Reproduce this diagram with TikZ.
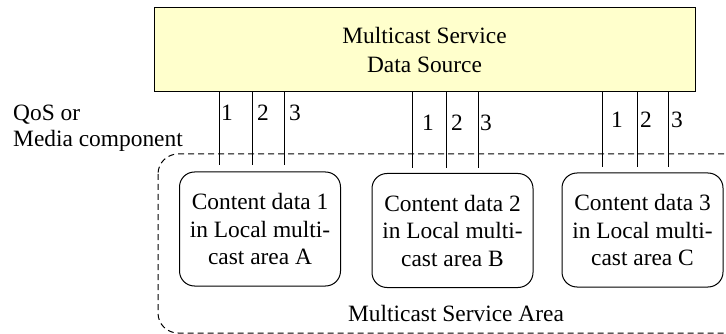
\documentclass[tikz,border=0pt]{standalone}
\usepackage{fontspec}
\setmainfont{Liberation Serif}
\definecolor{srcfill}{RGB}{255,255,204}
\begin{document}
\begin{tikzpicture}[x=1pt,y=-1pt,
  txt/.style={font=\rmfamily\fontsize{23.4}{28}\selectfont, inner sep=0pt},
  srcbox/.style={draw, line width=1pt, fill=srcfill, minimum width=541pt, minimum height=84pt, inner sep=0pt, align=center, font=\rmfamily\fontsize{23.4}{29}\selectfont},
  contentbox/.style={draw, line width=1pt, rounded corners=15pt, minimum width=161pt, minimum height=114pt, inner sep=0pt, align=center, font=\rmfamily\fontsize{23.4}{27.5}\selectfont},
  areabox/.style={draw, line width=1pt, dash pattern=on 6pt off 4pt, rounded corners=20pt},
  link/.style={line width=1pt},
  num/.style={txt, anchor=center}
]
\useasboundingbox (0,0) rectangle (726,334);
% multicast service area (dashed)
\draw[areabox] (158,154) rectangle (745,333);
% data source
\node[srcbox] (src) at (424.5,50) {Multicast Service\\Data Source};
% content boxes
\node[contentbox] (ca) at (260,229) {Content data 1\\in Local multi-\\cast area A};
\node[contentbox] (cb) at (452.5,230.5) {Content data 2\\in Local multi-\\cast area B};
\node[contentbox] (cc) at (642.5,230) {Content data 3\\in Local multi-\\cast area C};
% endpoints of the component lines
\coordinate (a1) at (219,165); \coordinate (a2) at (252,165); \coordinate (a3) at (284,165);
\coordinate (b1) at (412,168); \coordinate (b2) at (446,168); \coordinate (b3) at (478,168);
\coordinate (c1) at (602,167); \coordinate (c2) at (637,167); \coordinate (c3) at (668,167);
\foreach \p in {a1,a2,a3,b1,b2,b3,c1,c2,c3}{
  \draw[link] (src.south -| \p) -- (\p);
}
% labels
\node[num] (la1) at (227,113) {1};
\node[num] (la2) at (263,113) {2};
\node[num] (la3) at (295,113) {3};
\node[num] (lb1) at (428,123) {1};
\node[num] (lb2) at (457,123) {2};
\node[num] (lb3) at (486,123) {3};
\node[num] (lc1) at (617,120) {1};
\node[num] (lc2) at (646,120) {2};
\node[num] (lc3) at (677,120) {3};
% left label
\node[txt, anchor=west, align=left, font=\rmfamily\fontsize{23.4}{26}\selectfont] (qos) at (13,128) {QoS or\\Media component};
% area label
\node[txt] (area) at (456,313) {Multicast Service Area};
\end{tikzpicture}
\end{document}
